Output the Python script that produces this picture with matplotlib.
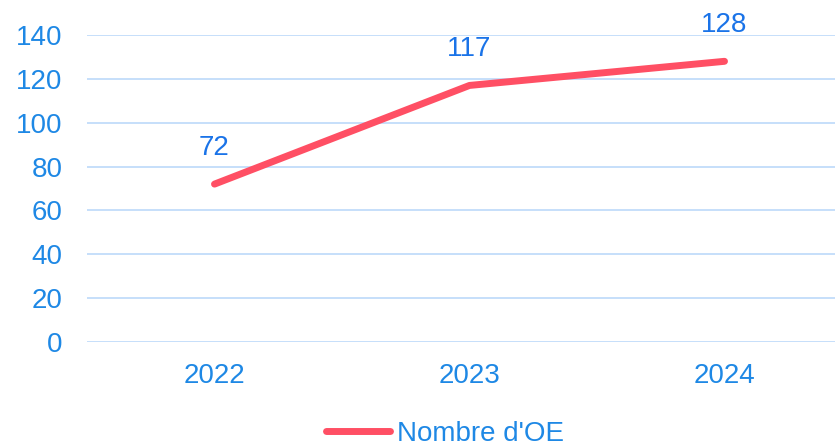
import numpy as np
import matplotlib.pyplot as plt
from matplotlib.lines import Line2D

plt.rcParams['font.family'] = ['Liberation Sans', 'DejaVu Sans']

years = ['2022', '2023', '2024']
counts = [72, 117, 128]

tick_blue = '#1E88E5'
label_blue = '#1A73E8'
line_red = '#FF4F64'
grid_blue = '#C6DFFA'

fig = plt.figure(figsize=(8.35, 4.46), dpi=100)
W, H = 835, 446
ax = fig.add_axes([87 / W, 1 - 342 / H, (852 - 87) / W, (342 - 35) / H])

x = np.arange(len(years))
ax.plot(x, counts, color=line_red, linewidth=5, solid_capstyle='round', solid_joinstyle='round',
        zorder=3, clip_on=False)
for xi, v in zip(x, counts):
    ax.annotate(str(v), (xi, v), xytext=(0, 26), textcoords='offset points',
                ha='center', va='center', color=label_blue, fontsize=20)

ax.set_xlim(-0.5, 2.5)
ax.set_ylim(0, 140)
ax.set_yticks(range(0, 141, 20))
ax.set_xticks(x)
ax.set_xticklabels(years)
ax.grid(axis='y', color=grid_blue, linewidth=1.4)
ax.set_axisbelow(True)
for s in ax.spines.values():
    s.set_visible(False)
ax.tick_params(axis='both', length=0, labelsize=20, colors=tick_blue)
ax.tick_params(axis='x', pad=15)
ax.tick_params(axis='y', pad=17.5)
ax.patch.set_alpha(0)

handle = Line2D([], [], color=line_red, linewidth=5, solid_capstyle='round')
fig.legend([handle], ["Nombre d'OE"], loc='center', bbox_to_anchor=(445 / W, 1 - 434 / H),
           frameon=False, fontsize=20, labelcolor=tick_blue, handlelength=2.3,
           handletextpad=0.25, borderaxespad=0, borderpad=0)

fig.savefig('out.png', dpi=100, facecolor='white')
